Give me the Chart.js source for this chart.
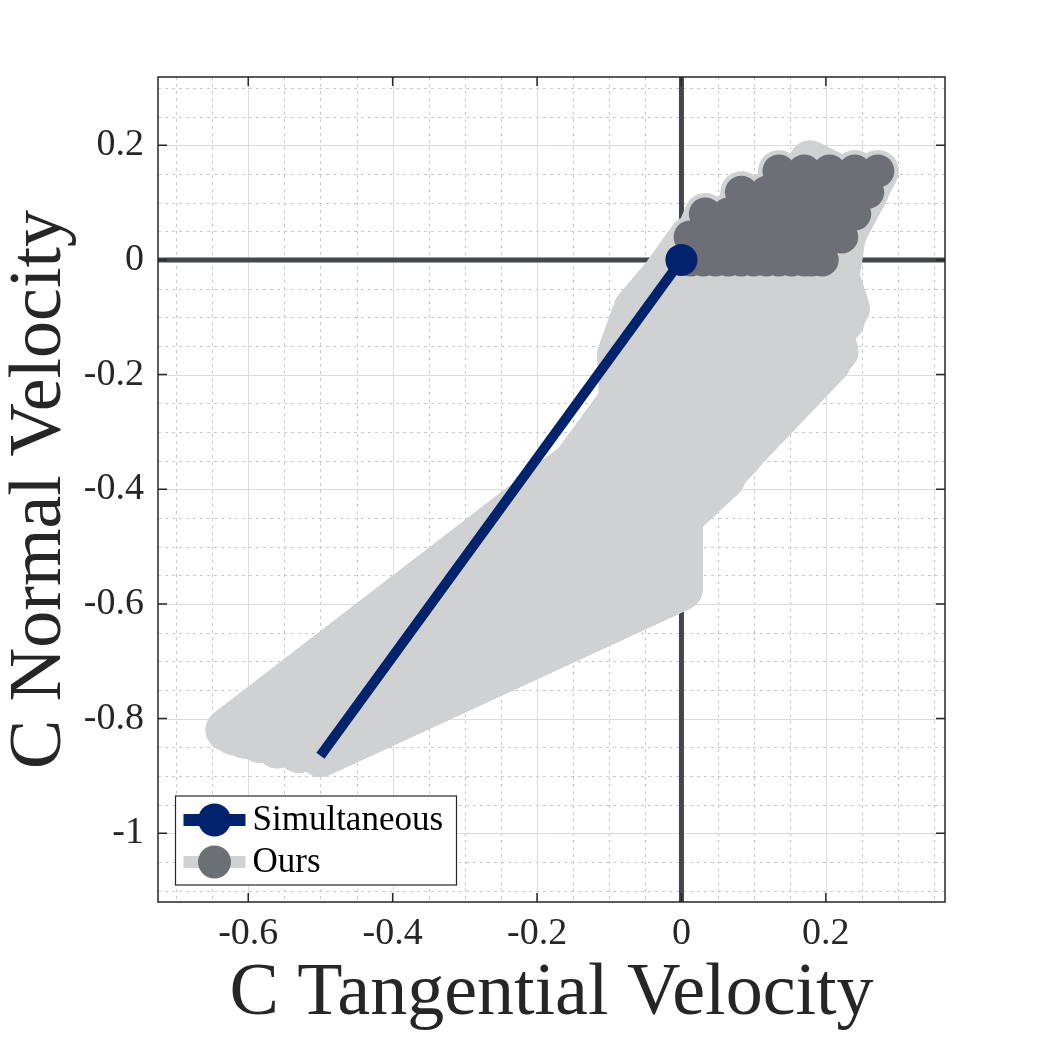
<!DOCTYPE html>
<html>
<head>
<meta charset="utf-8">
<script src="https://cdn.jsdelivr.net/npm/chart.js@4.4.1/dist/chart.umd.min.js"></script>
<style>
  html, body { margin: 0; padding: 0; background: #ffffff; }
  canvas { display: block; }
</style>
</head>
<body>
<canvas id="chart" width="1042" height="1042"></canvas>
<script>
// axis limits and ticks
const xRange = [-0.725, 0.365];
const yRange = [-1.12, 0.319];
const xTickValues = [-0.6, -0.4, -0.2, 0, 0.2];
const xTickLabels = ["-0.6", "-0.4", "-0.2", "0", "0.2"];
const yTickValues = [-1, -0.8, -0.6, -0.4, -0.2, 0, 0.2];
const yTickLabels = ["-1", "-0.8", "-0.6", "-0.4", "-0.2", "0", "0.2"];
const seriesNames = ["Simultaneous", "Ours"];

// single simultaneous impact: pre-impact -> post-impact velocity
const simultaneousPath = [[-0.5, -0.865], [0, 0]];

// our sequential impacts, one polyline per run (last point = final velocity)
const oursPaths = [
  [[-0.63, -0.82], [-0.15, -0.355], [-0.085, -0.25], [-0.088, -0.165], [-0.065, -0.085], [-0.025, -0.025], [0.012, 0.04]],
  [[-0.63, -0.82], [-0.15, -0.355], [-0.06, -0.2], [0.033, 0.08]],
  [[-0.62, -0.827], [-0.125, -0.375], [-0.04, -0.12], [0.03, 0]],
  [[-0.62, -0.827], [-0.125, -0.375], [0.0, -0.28], [0.047, 0.04]],
  [[-0.605, -0.833], [-0.1, -0.4], [-0.02, -0.18], [0.065, 0.08]],
  [[-0.605, -0.833], [-0.1, -0.4], [-0.03, -0.43], [0.03, -0.3], [0.065, 0]],
  [[-0.585, -0.84], [-0.05, -0.45], [0.0, -0.4], [0.06, -0.2], [0.083, 0.118]],
  [[-0.585, -0.84], [-0.05, -0.45], [0.05, -0.33], [0.082, 0.04]],
  [[-0.56, -0.85], [0, -0.49], [0, -0.45], [0.03, -0.415], [0.09, -0.22], [0.1, 0.08]],
  [[-0.56, -0.85], [0, -0.49], [0, -0.45], [0.06, -0.38], [0.1, 0]],
  [[-0.53, -0.858], [0, -0.54], [0, -0.45], [0.085, -0.34], [0.12, -0.15], [0.118, 0.118]],
  [[-0.53, -0.858], [0, -0.54], [0, -0.45], [0.1, -0.3], [0.117, 0.04]],
  [[-0.5, -0.865], [0, -0.575], [0, -0.45], [0.125, -0.27], [0.135, 0.08]],
  [[-0.5, -0.865], [0, -0.575], [0, -0.45], [0.165, -0.23], [0.135, 0]],
  [[-0.47, -0.84], [-0.003, -0.575], [0, -0.45], [0.18, -0.205], [0.152, 0.04]],
  [[-0.47, -0.84], [-0.003, -0.575], [0, -0.45], [0.205, -0.18], [0.135, 0.155]],
  [[-0.56, -0.85], [0, -0.49], [0, -0.45], [0.216, -0.16], [0.153, 0.118]],
  [[-0.53, -0.858], [0, -0.54], [0, -0.45], [0.205, -0.13], [0.17, 0.08]],
  [[-0.5, -0.865], [0, -0.575], [0, -0.45], [0.225, -0.105], [0.17, 0]],
  [[-0.47, -0.84], [-0.003, -0.575], [0, -0.45], [0.232, -0.085], [0.17, 0.155]],
  [[-0.585, -0.84], [-0.05, -0.45], [0.21, -0.06], [0.187, 0.04]],
  [[-0.605, -0.833], [-0.1, -0.4], [0.2, -0.035], [0.188, 0.118]],
  [[-0.62, -0.827], [-0.125, -0.375], [0.21, 0.0], [0.205, 0.08]],
  [[-0.63, -0.82], [-0.15, -0.355], [0.15, -0.1], [0.178, 0.172], [0.205, 0.155]],
  [[-0.56, -0.85], [0, -0.49], [0, -0.45], [0.16, -0.16], [0.195, 0]],
  [[-0.53, -0.858], [0, -0.54], [0, -0.45], [0.19, -0.08], [0.222, 0.04]],
  [[-0.5, -0.865], [0, -0.575], [0, -0.45], [0.14, -0.2], [0.223, 0.118]],
  [[-0.47, -0.84], [-0.003, -0.575], [0, -0.45], [0.2, -0.03], [0.24, 0.08]],
  [[-0.585, -0.84], [-0.05, -0.45], [0.22, -0.01], [0.24, 0.155]],
  [[-0.605, -0.833], [-0.1, -0.4], [0.22, 0.03], [0.258, 0.118]],
  [[-0.62, -0.827], [-0.125, -0.375], [0.235, 0.065], [0.272, 0.155]],
  [[-0.53, -0.858], [0, -0.54], [0, -0.45], [0.04, -0.25], [0.0475, 0]],
  [[-0.5, -0.865], [0, -0.575], [0, -0.45], [0.08, -0.2], [0.0825, 0]],
  [[-0.47, -0.84], [-0.003, -0.575], [0, -0.45], [0.12, -0.15], [0.1175, 0]],
  [[-0.585, -0.84], [-0.05, -0.45], [0.1, -0.2], [0.1525, 0]],
  [[-0.605, -0.833], [-0.1, -0.4], [0.15, -0.05], [0.18, 0]],
  [[-0.62, -0.827], [-0.125, -0.375], [-0.02, -0.06], [0.013, 0]]
];

const NAVY = "#00236c";
const LIGHT = "#d0d1d3";
const DARK = "#6c6f76";
const AXIS_DARK = "#45464b";
const INK = "#262626";
const SERIF = "'Liberation Serif', 'DejaVu Serif', serif";

const toXY = (p) => ({ x: p[0], y: p[1] });

// light thick trails, one dataset per run
const trailSets = oursPaths.map((path, i) => ({
  label: i === 0 ? seriesNames[1] : "",
  data: path.map(toXY),
  showLine: true,
  borderColor: LIGHT,
  borderWidth: 42,
  borderCapStyle: "round",
  borderJoinStyle: "round",
  pointRadius: 0,
  order: 2
}));

const finalSet = {
  label: seriesNames[1],
  data: oursPaths.map((path) => toXY(path[path.length - 1])),
  showLine: false,
  pointRadius: 16.5,
  pointBackgroundColor: DARK,
  pointBorderWidth: 0,
  order: 1
};

const simultaneousSet = {
  label: seriesNames[0],
  data: simultaneousPath.map(toXY),
  showLine: true,
  borderColor: NAVY,
  borderWidth: 10,
  borderCapStyle: "butt",
  pointRadius: [0, 16],
  pointBackgroundColor: NAVY,
  pointBorderWidth: 0,
  order: 0
};

// MATLAB style grid: dotted minor, solid major, heavy zero lines
const gridPlugin = {
  id: "matlabGrid",
  beforeDatasetsDraw(chart) {
    const { ctx, chartArea: a, scales } = chart;
    const x = scales.x;
    const y = scales.y;
    const minor = 0.05;
    ctx.save();
    const vline = (px) => { ctx.beginPath(); ctx.moveTo(px, a.top); ctx.lineTo(px, a.bottom); ctx.stroke(); };
    const hline = (py) => { ctx.beginPath(); ctx.moveTo(a.left, py); ctx.lineTo(a.right, py); ctx.stroke(); };
    ctx.lineWidth = 1;
    ctx.strokeStyle = "#c9c9c9";
    ctx.setLineDash([3, 4]);
    for (let k = Math.ceil(x.min / minor); k <= Math.floor(x.max / minor); k++) {
      if (k % 4 !== 0) vline(Math.round(x.getPixelForValue(k * minor)) + 0.5);
    }
    for (let k = Math.ceil(y.min / minor); k <= Math.floor(y.max / minor); k++) {
      if (k % 4 !== 0) hline(Math.round(y.getPixelForValue(k * minor)) + 0.5);
    }
    ctx.setLineDash([]);
    ctx.strokeStyle = "#dcdcdc";
    xTickValues.forEach((v) => vline(Math.round(x.getPixelForValue(v)) + 0.5));
    yTickValues.forEach((v) => hline(Math.round(y.getPixelForValue(v)) + 0.5));
    ctx.strokeStyle = AXIS_DARK;
    ctx.lineWidth = 5;
    vline(x.getPixelForValue(0));
    hline(y.getPixelForValue(0));
    ctx.restore();
  },
  afterDatasetsDraw(chart) {
    const { ctx, chartArea: a, scales } = chart;
    const x = scales.x;
    const y = scales.y;
    const len = 9;
    ctx.save();
    ctx.strokeStyle = INK;
    ctx.lineWidth = 1.5;
    ctx.strokeRect(a.left, a.top, a.right - a.left, a.bottom - a.top);
    ctx.beginPath();
    xTickValues.forEach((v) => {
      const px = x.getPixelForValue(v);
      ctx.moveTo(px, a.bottom); ctx.lineTo(px, a.bottom - len);
      ctx.moveTo(px, a.top); ctx.lineTo(px, a.top + len);
    });
    yTickValues.forEach((v) => {
      const py = y.getPixelForValue(v);
      ctx.moveTo(a.left, py); ctx.lineTo(a.left + len, py);
      ctx.moveTo(a.right, py); ctx.lineTo(a.right - len, py);
    });
    ctx.stroke();
    ctx.restore();
  }
};

// legend box in the lower left corner of the axes
const legendPlugin = {
  id: "cornerLegend",
  afterDraw(chart) {
    const { ctx, chartArea: a } = chart;
    const bx = a.left + 17.5, bw = 281, bh = 89;
    const by = a.bottom - 17 - bh;
    ctx.save();
    ctx.fillStyle = "#ffffff";
    ctx.fillRect(bx, by, bw, bh);
    ctx.strokeStyle = INK;
    ctx.lineWidth = 1.2;
    ctx.strokeRect(bx, by, bw, bh);
    const rows = [
      { name: seriesNames[0], line: NAVY, marker: NAVY, y: by + 24 },
      { name: seriesNames[1], line: LIGHT, marker: DARK, y: by + 66 }
    ];
    rows.forEach((r) => {
      ctx.strokeStyle = r.line;
      ctx.lineWidth = 12;
      ctx.beginPath();
      ctx.moveTo(bx + 8, r.y);
      ctx.lineTo(bx + 70, r.y);
      ctx.stroke();
      ctx.fillStyle = r.marker;
      ctx.beginPath();
      ctx.arc(bx + 39, r.y, 16.5, 0, Math.PI * 2);
      ctx.fill();
      ctx.fillStyle = "#000000";
      ctx.font = "35px " + SERIF;
      ctx.textBaseline = "middle";
      ctx.textAlign = "left";
      ctx.fillText(r.name, bx + 77, r.y + 1);
    });
    ctx.restore();
  }
};

const tickFont = { family: SERIF, size: 38 };
const titleFont = { family: SERIF, size: 74 };

new Chart(document.getElementById("chart"), {
  type: "scatter",
  data: { datasets: [simultaneousSet, finalSet, ...trailSets] },
  options: {
    responsive: false,
    animation: false,
    devicePixelRatio: 1,
    layout: { padding: { top: 77, right: 97, bottom: 0, left: 0 } },
    plugins: { legend: { display: false }, tooltip: { enabled: false } },
    scales: {
      x: {
        type: "linear",
        min: xRange[0],
        max: xRange[1],
        afterBuildTicks: (s) => { s.ticks = xTickValues.map((v) => ({ value: v })); },
        afterFit: (s) => { s.height = 140; },
        grid: { display: false, drawTicks: false },
        border: { display: false },
        ticks: {
          callback: (v, i) => xTickLabels[i],
          font: tickFont,
          color: INK,
          padding: 9,
          maxRotation: 0,
          autoSkip: false
        },
        title: {
          display: true,
          text: "C Tangential Velocity",
          font: titleFont,
          color: INK,
          padding: { top: 0, bottom: 3 }
        }
      },
      y: {
        type: "linear",
        min: yRange[0],
        max: yRange[1],
        afterBuildTicks: (s) => { s.ticks = yTickValues.map((v) => ({ value: v })); },
        afterFit: (s) => { s.width = 158; },
        grid: { display: false, drawTicks: false },
        border: { display: false },
        ticks: {
          callback: (v, i) => yTickLabels[i],
          font: tickFont,
          color: INK,
          padding: 14,
          autoSkip: false
        },
        title: {
          display: true,
          text: "C Normal Velocity",
          font: titleFont,
          color: INK,
          padding: { top: -4, bottom: 0 }
        }
      }
    }
  },
  plugins: [gridPlugin, legendPlugin]
});
</script>
</body>
</html>
